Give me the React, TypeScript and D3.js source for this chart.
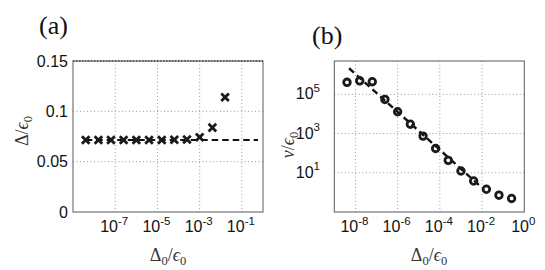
import React from "react";
import * as d3 from "d3";

// ---- data ----
const xValues = [4e-9, 1.6e-8, 6.3e-8, 2.5e-7, 1e-6, 4e-6, 1.6e-5, 6.3e-5, 2.5e-4, 1e-3, 4e-3, 1.6e-2, 6.3e-2, 0.25];
const gapValues = [0.0715, 0.0715, 0.0715, 0.0715, 0.0715, 0.0715, 0.0715, 0.0718, 0.072, 0.0742, 0.0838, 0.114];
const gapFitX = [4e-9, 0.58];
const gapFitY = [0.0715, 0.0715];
const velValues = [4.1e5, 4.9e5, 4.4e5, 5.5e4, 1.3e4, 3.0e3, 7.4e2, 1.74e2, 4.3e1, 1.23e1, 3.8, 1.45, 0.72, 0.49];
const velFitX = [5.0e-9, 7.2e-3];
const velFitY = [2.14e6, 2.34];

const aYTicks = [0, 0.05, 0.1, 0.15];
const aYTickLabels = ["0", "0.05", "0.1", "0.15"];
const aXTickExp = [-7, -5, -3, -1];
const bXTickExp = [-8, -6, -4, -2, 0];
const bYTickExp = [1, 3, 5];

const W = 545;
const H = 270;

const tickFont = "'Liberation Sans', Arial, Helvetica, sans-serif";
const mathFont = "'Liberation Serif', 'DejaVu Serif', serif";

const A = { left: 73, right: 263, top: 61, bottom: 212 };
const B = { left: 334.3, right: 524.3, top: 61, bottom: 212 };

const gridColor = "#9a9a9a";
const boxColor = "#5a5a5a";

function Pow10({ x, y, exp, anchor }: { x: number; y: number; exp: number; anchor: string }) {
  return (
    <text x={x} y={y} textAnchor={anchor} fontFamily={tickFont} fontSize={16} fill="#111">
      <tspan>10</tspan>
      <tspan dy={-7.5} fontSize={11.5}>{String(exp)}</tspan>
    </text>
  );
}

function MathLabel({ x, y, first, firstItalic, firstSub, rotate }: { x: number; y: number; first: string; firstItalic: boolean; firstSub: boolean; rotate?: boolean }) {
  const transform = rotate ? `translate(${x},${y}) rotate(-90)` : `translate(${x},${y})`;
  return (
    <text transform={transform} textAnchor="middle" fontFamily={mathFont} fontSize={18} fill="#333">
      <tspan fontStyle={firstItalic ? "italic" : "normal"}>{first}</tspan>
      {firstSub ? <tspan dy={4} fontSize={12.5}>0</tspan> : null}
      <tspan dy={firstSub ? -4 : 0}>/</tspan>
      <tspan fontStyle="italic">ϵ</tspan>
      <tspan dy={4} fontSize={12.5}>0</tspan>
    </text>
  );
}

export default function App() {
  const xa = d3.scaleLog().domain([1e-9, 1]).range([A.left, A.right]);
  const ya = d3.scaleLinear().domain([0, 0.15]).range([A.bottom, A.top]);
  const xb = d3.scaleLog().domain([1e-9, 1]).range([B.left, B.right]);
  const yb = d3.scaleLog().domain([1e-1, Math.pow(10, 6.7)]).range([B.bottom, B.top]);

  const lineA = d3.line<number>().x((d, i) => xa(gapFitX[i])).y((d) => ya(d));
  const lineB = d3.line<number>().x((d, i) => xb(velFitX[i])).y((d) => yb(d));

  const cs = 2.8;

  return (
    <svg width={W} height={H} style={{ position: "absolute", left: 0, top: 0, background: "#fff" }}>
      <rect x={0} y={0} width={W} height={H} fill="#fff" />

      {/* ---------- panel (a) ---------- */}
      <g>
        {aXTickExp.map((e) => (
          <line key={"ag" + e} x1={xa(Math.pow(10, e))} x2={xa(Math.pow(10, e))} y1={A.top} y2={A.bottom}
            stroke={gridColor} strokeWidth={1} strokeDasharray="1,2.5" />
        ))}
        {aYTicks.slice(1).map((t) => (
          <line key={"agy" + t} x1={A.left} x2={A.right} y1={ya(t)} y2={ya(t)}
            stroke={gridColor} strokeWidth={1} strokeDasharray="1,2.5" />
        ))}
        <rect x={A.left} y={A.top} width={A.right - A.left} height={A.bottom - A.top} fill="none" stroke={boxColor} strokeWidth={1} />
        <line x1={A.left} x2={A.right} y1={A.top} y2={A.top} stroke="#222" strokeWidth={1} strokeDasharray="1.5,1.5" />

        <path d={lineA(gapFitY) || ""} fill="none" stroke="#111" strokeWidth={2} strokeDasharray="6.5,4" />
        {gapValues.map((v, i) => {
          const cx = xa(xValues[i]);
          const cy = ya(v);
          return (
            <g key={"x" + i} stroke="#1a1a1a" strokeWidth={2.8} strokeLinecap="square">
              <line x1={cx - cs} y1={cy - cs} x2={cx + cs} y2={cy + cs} />
              <line x1={cx - cs} y1={cy + cs} x2={cx + cs} y2={cy - cs} />
            </g>
          );
        })}

        {aYTicks.map((t, i) => (
          <text key={"ayt" + t} x={68} y={ya(t) + 5.5} textAnchor="end" fontFamily={tickFont} fontSize={16} fill="#111">
            {aYTickLabels[i]}
          </text>
        ))}
        {aXTickExp.map((e) => (
          <Pow10 key={"axt" + e} x={xa(Math.pow(10, e)) - 1} y={232} exp={e} anchor="middle" />
        ))}

        <text x={39} y={34} fontFamily={mathFont} fontSize={26} fill="#111">(a)</text>

        <MathLabel x={168} y={261} first="Δ" firstItalic={false} firstSub={true} />
        <MathLabel x={28} y={131} first="Δ" firstItalic={false} firstSub={false} rotate={true} />
      </g>

      {/* ---------- panel (b) ---------- */}
      <g>
        {bXTickExp.filter((e) => e < 0).map((e) => (
          <line key={"bg" + e} x1={xb(Math.pow(10, e))} x2={xb(Math.pow(10, e))} y1={B.top} y2={B.bottom}
            stroke={gridColor} strokeWidth={1} strokeDasharray="1,2.5" />
        ))}
        {bYTickExp.map((e) => (
          <line key={"bgy" + e} x1={B.left} x2={B.right} y1={yb(Math.pow(10, e))} y2={yb(Math.pow(10, e))}
            stroke={gridColor} strokeWidth={1} strokeDasharray="1,2.5" />
        ))}
        <rect x={B.left} y={B.top} width={B.right - B.left} height={B.bottom - B.top} fill="none" stroke={boxColor} strokeWidth={1} />

        <path d={lineB(velFitY) || ""} fill="none" stroke="#111" strokeWidth={2.4} strokeDasharray="6.5,4" />
        {velValues.map((v, i) => (
          <circle key={"c" + i} cx={xb(xValues[i])} cy={yb(v)} r={3.3} fill="none" stroke="#1a1a1a" strokeWidth={2.8} />
        ))}

        {bYTickExp.map((e) => (
          <Pow10 key={"byt" + e} x={320} y={yb(Math.pow(10, e)) + 5} exp={e} anchor="end" />
        ))}
        {bXTickExp.map((e) => (
          <Pow10 key={"bxt" + e} x={xb(Math.pow(10, e)) - 1} y={232} exp={e} anchor="middle" />
        ))}

        <text x={312} y={44} fontFamily={mathFont} fontSize={26} fill="#111">(b)</text>

        <MathLabel x={429} y={261} first="Δ" firstItalic={false} firstSub={true} />
        <MathLabel x={294} y={145} first="v" firstItalic={true} firstSub={false} rotate={true} />
      </g>
    </svg>
  );
}
